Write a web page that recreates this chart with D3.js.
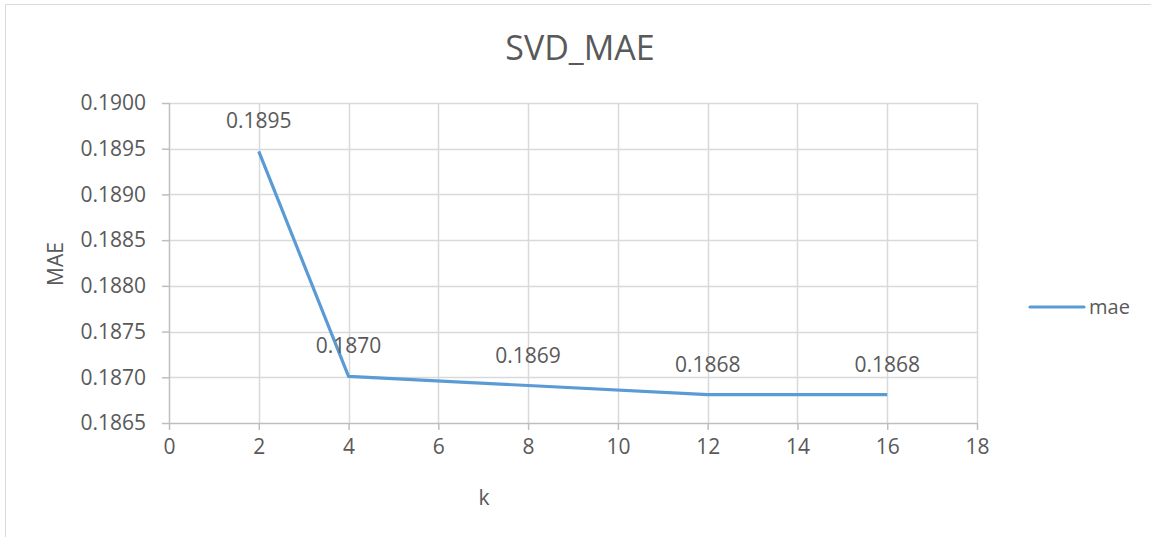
<!DOCTYPE html>
<html>
<head>
<meta charset="utf-8">
<script src="https://cdn.jsdelivr.net/npm/d3@7"></script>
<style>
  html, body { margin: 0; padding: 0; background: #fff; }
  svg { display: block; }
  text { font-family: "Open Sans", "Noto Sans", sans-serif; fill: #595959; }
</style>
</head>
<body>
<svg id="chart" width="1151" height="537"></svg>
<script>
const kValues = [2, 4, 8, 12, 16];
const maeValues = [0.18947, 0.18701, 0.18691, 0.18681, 0.18681];
const maeLabels = ["0.1895", "0.1870", "0.1869", "0.1868", "0.1868"];
const xTicks = [0, 2, 4, 6, 8, 10, 12, 14, 16, 18];
const yTicks = [0.1865, 0.1870, 0.1875, 0.1880, 0.1885, 0.1890, 0.1895, 0.1900];
const seriesName = "mae";

const svg = d3.select("#chart");
const W = 1151, H = 537;
const plot = { left: 169, right: 977, top: 103, bottom: 423 };

// outer chart border
svg.append("path")
  .attr("d", `M5.5,${H} L5.5,4.5 L${W},4.5`)
  .attr("fill", "none").attr("stroke", "#d9d9d9").attr("stroke-width", 1);

const x = d3.scaleLinear().domain([0, 18]).range([plot.left, plot.right]);
const y = d3.scaleLinear().domain([0.1865, 0.1900]).range([plot.bottom, plot.top]);

// gridlines
svg.append("g").selectAll("line.h").data(yTicks.slice(1)).join("line")
  .attr("x1", plot.left).attr("x2", plot.right)
  .attr("y1", d => Math.round(y(d)) + 0.5).attr("y2", d => Math.round(y(d)) + 0.5)
  .attr("stroke", "#d9d9d9").attr("stroke-width", 1.5);
svg.append("g").selectAll("line.v").data(xTicks.slice(1)).join("line")
  .attr("y1", plot.top).attr("y2", plot.bottom)
  .attr("x1", d => Math.round(x(d)) + 0.5).attr("x2", d => Math.round(x(d)) + 0.5)
  .attr("stroke", "#d9d9d9").attr("stroke-width", 1.5);

// axes
const xAxis = d3.axisBottom(x).tickValues(xTicks).tickSize(7).tickPadding(9).tickFormat(d3.format("d"));
const gx = svg.append("g").attr("transform", `translate(0,${plot.bottom})`).call(xAxis);
const yAxis = d3.axisLeft(y).tickValues(yTicks).tickSize(7).tickPadding(16).tickFormat(d3.format(".4f"));
const gy = svg.append("g").attr("transform", `translate(${plot.left},0)`).call(yAxis);
[gx, gy].forEach(g => {
  g.select(".domain").attr("stroke", "#bfbfbf").attr("stroke-width", 1.5);
  g.selectAll(".tick line").attr("stroke", "#bfbfbf").attr("stroke-width", 1.5);
  g.selectAll(".tick text").attr("fill", "#595959")
    .style("font-size", "21px").style("font-family", "'Open Sans', sans-serif");
});
gx.select(".domain").attr("d", `M${plot.left},0.5H${plot.right}`);
gy.select(".domain").attr("d", `M0.5,${plot.top}V${plot.bottom}`);

// series line
const pts = kValues.map((k, i) => [k, maeValues[i]]);
svg.append("path")
  .datum(pts)
  .attr("fill", "none")
  .attr("stroke", "#5b9bd5")
  .attr("stroke-width", 3.2)
  .attr("stroke-linejoin", "round")
  .attr("d", d3.line().x(d => x(d[0])).y(d => y(d[1])));

// data labels
svg.append("g").selectAll("text").data(pts).join("text")
  .attr("x", d => x(d[0]))
  .attr("y", d => y(d[1]) - 23)
  .attr("text-anchor", "middle")
  .style("font-size", "21px")
  .attr("fill", "#404040")
  .text((d, i) => maeLabels[i]);

// title
svg.append("text").attr("x", 580).attr("y", 60).attr("text-anchor", "middle")
  .style("font-size", "34px").text("SVD_MAE");

// axis titles
svg.append("text").attr("x", 484).attr("y", 505).attr("text-anchor", "middle")
  .style("font-size", "21px").text("k");
svg.append("text").attr("transform", "translate(63,264) rotate(-90)").attr("text-anchor", "middle")
  .style("font-size", "21px").text("MAE");

// legend
svg.append("line").attr("x1", 1030).attr("x2", 1084).attr("y1", 307).attr("y2", 307)
  .attr("stroke", "#5b9bd5").attr("stroke-width", 3.2).attr("stroke-linecap", "round");
svg.append("text").attr("x", 1089).attr("y", 314)
  .style("font-size", "20px").text(seriesName);
</script>
</body>
</html>
